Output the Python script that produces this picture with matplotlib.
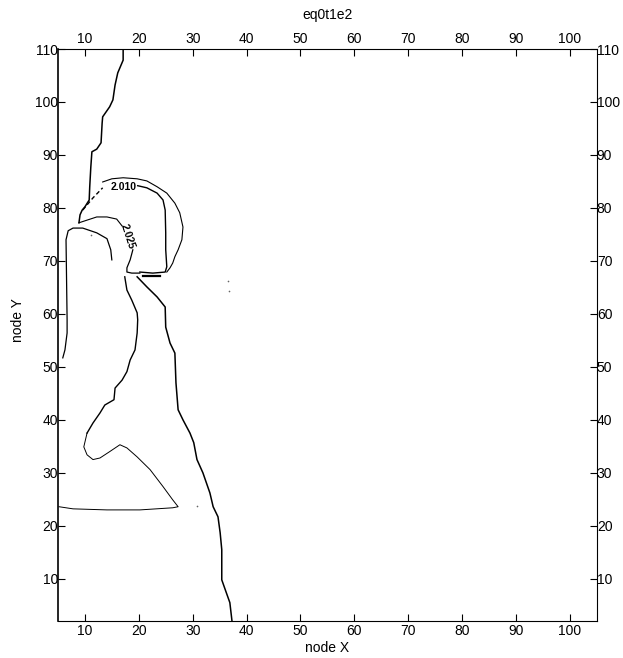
import matplotlib
matplotlib.use('Agg')
import matplotlib.pyplot as plt

plt.rcParams['font.family'] = ['Liberation Sans', 'DejaVu Sans']

# contour traces (node X, node Y)
main_x = [17.1, 17.1, 16.1, 15.6, 15.2, 14.6, 13.3, 13.2, 13.0, 12.2, 11.3, 11.1, 10.9, 10.8, 10.0, 9.5, 9.1, 8.9]
main_y = [110, 107.9, 105.5, 103.2, 100.4, 99.1, 97.2, 96.0, 92.3, 91.1, 90.6, 87.7, 84.0, 81.5, 80.2, 79.6, 78.7, 77.2]

c025a_x = [8.9, 12.2, 14.1, 15.9, 16.9]
c025a_y = [77.2, 78.3, 78.3, 77.9, 76.6]
c025b_x = [18.9, 18.4, 17.8, 17.8, 18.7, 20.2]
c025b_y = [72.1, 70.2, 68.7, 67.9, 67.7, 67.7]

c010_dash_x = [9.6, 11.5, 13.3]
c010_dash_y = [79.6, 81.9, 83.8]
c010_in_x = [19.8, 21.5, 23.4, 24.5, 24.9, 25.0, 25.0, 25.2, 24.9, 22.6, 20.2]
c010_in_y = [84.2, 83.8, 82.8, 81.5, 79.6, 75.3, 72.1, 68.9, 67.9, 67.7, 67.9]
c010_out_x = [13.3, 15.0, 17.1, 19.7, 21.5, 23.4, 25.2, 26.7, 27.6, 28.2, 28.0, 27.3, 26.7, 26.3, 25.8, 25.2]
c010_out_y = [84.9, 85.5, 85.7, 85.5, 85.1, 84.0, 82.8, 80.9, 79.1, 76.4, 74.0, 72.1, 70.8, 69.6, 68.7, 67.9]
dash_x = [20.8, 23.9]
dash_y = [67.2, 67.2]

left_x = [15.0, 14.8, 14.1, 12.2, 9.6, 7.8, 6.9, 6.5, 6.7, 6.7, 6.3, 5.9]
left_y = [70.2, 72.1, 74.2, 75.3, 76.2, 76.2, 75.7, 74.0, 58.9, 56.4, 53.2, 51.7]

mid_x = [17.4, 17.8, 18.7, 19.7, 19.8, 19.7, 19.3, 18.4, 17.8, 16.9, 15.6, 15.4, 13.7, 12.8, 11.5, 10.4]
mid_y = [67.0, 64.5, 62.6, 60.2, 58.9, 56.4, 53.2, 51.3, 49.1, 47.5, 46.0, 43.8, 42.8, 41.3, 39.4, 37.5]
tri_x = [10.4, 9.8, 10.4, 11.5, 12.8, 14.6, 16.5, 17.8, 19.7, 22.1, 24.5, 26.3, 27.3, 26.3, 20.2, 14.1, 7.8, 5.2]
tri_y = [37.5, 34.9, 33.4, 32.5, 32.8, 34.0, 35.3, 34.7, 33.0, 30.6, 27.4, 24.9, 23.6, 23.4, 23.0, 23.0, 23.2, 23.6]

right_x = [19.7, 21.5, 23.4, 24.9, 25.0, 25.8, 26.7, 26.9, 27.3, 28.2, 29.5, 30.2, 30.8, 31.9, 33.2, 33.8, 34.7, 35.1, 35.4, 35.4, 36.2, 36.9, 37.3]
right_y = [67.0, 65.1, 63.2, 61.3, 57.5, 54.5, 52.6, 47.0, 41.9, 40.0, 37.5, 35.7, 32.5, 30.0, 26.2, 23.6, 21.7, 18.7, 15.5, 9.8, 7.5, 5.5, 2.0]

specks_x = [11.2, 36.5, 36.7, 30.8]
specks_y = [74.8, 66.2, 64.4, 23.8]

xticks = [10, 20, 30, 40, 50, 60, 70, 80, 90, 100]
yticks = [10, 20, 30, 40, 50, 60, 70, 80, 90, 100, 110]

fig = plt.figure(figsize=(6.23, 6.58), dpi=100)
ax = fig.add_axes([0.093, 0.056, 0.865, 0.8695])

k = 'black'
ax.plot(main_x, main_y, color=k, lw=1.1)
ax.plot(c025a_x, c025a_y, color=k, lw=0.8)
ax.plot(c025b_x, c025b_y, color=k, lw=0.9)
ax.plot(c010_dash_x, c010_dash_y, color=k, lw=1.0, ls=(0, (3, 2)))
ax.plot(c010_in_x, c010_in_y, color=k, lw=1.0)
ax.plot(c010_out_x, c010_out_y, color=k, lw=0.8)
ax.plot(dash_x, dash_y, color=k, lw=1.6)
ax.plot(left_x, left_y, color=k, lw=0.9)
ax.plot(mid_x, mid_y, color=k, lw=1.0)
ax.plot(tri_x, tri_y, color=k, lw=0.7)
ax.plot(right_x, right_y, color=k, lw=1.1)
ax.plot(specks_x, specks_y, 'o', color='0.4', ms=1.2, mew=0)

ax.text(17.1, 84.0, '2.010', fontsize=7.5, fontweight='bold', ha='center', va='center')
ax.text(18.0, 74.6, '2.025', fontsize=7.5, fontweight='bold', ha='center', va='center', rotation=-72)

ax.set_xlim(5, 105)
ax.set_ylim(2, 110)
ax.set_xticks(xticks)
ax.set_yticks(yticks)
ax.tick_params(direction='in', length=5, width=0.8, labelsize=10,
               top=True, right=True, labeltop=True, labelright=True)
ax.tick_params(axis='y', pad=0)
ax.tick_params(axis='x', pad=2)
for s in ax.spines.values():
    s.set_linewidth(0.8)
ax.spines['left'].set_linewidth(1.2)

fig.text(0.525, 0.977, 'eq0t1e2', ha='center', va='center', fontsize=10)
fig.text(0.525, 0.015, 'node X', ha='center', va='center', fontsize=10)
fig.text(0.029, 0.513, 'node Y', ha='center', va='center', rotation=90, fontsize=10)

fig.savefig('out.png', dpi=100)
